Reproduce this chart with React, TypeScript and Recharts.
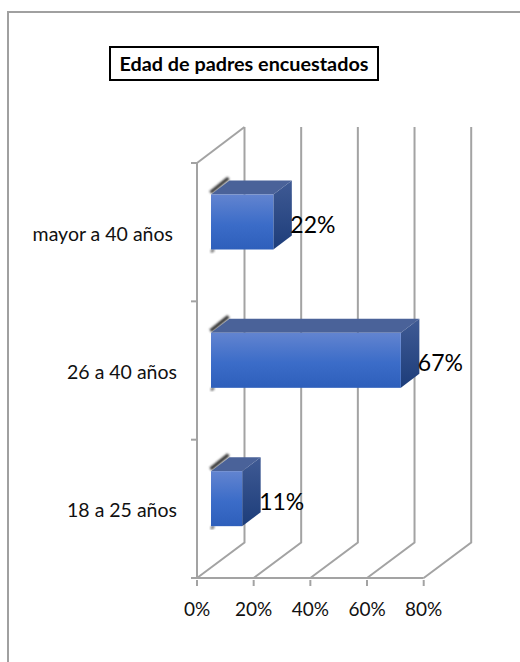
import React from "react";
import { BarChart, Bar, XAxis, YAxis, CartesianGrid, LabelList } from "recharts";

const categories = ["mayor a 40 años", "26 a 40 años", "18 a 25 años"];
const values = [22, 67, 11];
const xTicks = [0, 20, 40, 60, 80];
const chartTitle = "Edad de padres encuestados";

const rows = categories.map((name, i) => ({ name, value: values[i] }));

const FONT = "Lato, 'Open Sans', sans-serif";
const GRID = "#a3a3a3";
const BACK_DX = 47.5;
const BACK_DY = -35.5;
const BACK_TOP = 127;
const BAR_DX = 18.5;
const BAR_DY = -14;
const BAR_SHIFT_X = 14;
const BAR_SHIFT_Y = -10.5;
const BAND = 138.3;

const BarShape = (p: any) => {
  const x = p.x + BAR_SHIFT_X;
  const y = p.y + BAR_SHIFT_Y;
  const w = p.width;
  const h = p.height;
  const id = `b${p.index}`;
  return (
    <g>
      <defs>
        <linearGradient id={`${id}f`} x1="0" y1="0" x2="0" y2="1">
          <stop offset="0" stopColor="#6284d0" />
          <stop offset="0.55" stopColor="#3b6cc8" />
          <stop offset="1" stopColor="#2e5fbb" />
        </linearGradient>
        <linearGradient id={`${id}s`} x1="0" y1="0" x2="0" y2="1">
          <stop offset="0" stopColor="#3f5a94" />
          <stop offset="1" stopColor="#1d3d7a" />
        </linearGradient>
        <filter id={`${id}b`} x="-50%" y="-50%" width="200%" height="200%">
          <feGaussianBlur stdDeviation="1" />
        </filter>
      </defs>
      <path
        d={`M${x - 0.5} ${y - 2} L${x + BAR_DX - 1} ${y + BAR_DY - 2.5}`}
        stroke="#333"
        strokeWidth={3.5}
        fill="none"
        filter={`url(#${id}b)`}
      />
      <path
        d={`M${x} ${y + h + 2.5} L${x + 3} ${y + h}`}
        stroke="#666"
        strokeWidth={2.5}
        fill="none"
        filter={`url(#${id}b)`}
      />
      <path
        d={`M${x} ${y} L${x + BAR_DX} ${y + BAR_DY} H${x + w + BAR_DX} L${x + w} ${y} Z`}
        fill="#4a6299"
      />
      <path
        d={`M${x + w} ${y} L${x + w + BAR_DX} ${y + BAR_DY} V${y + h + BAR_DY} L${x + w} ${y + h} Z`}
        fill={`url(#${id}s)`}
      />
      <rect x={x} y={y} width={w} height={h} fill={`url(#${id}f)`} />
    </g>
  );
};

const ValueLabel = (p: any) => (
  <text
    x={p.x + p.width + BAR_SHIFT_X + 17}
    y={p.y + p.height / 2 + BAR_SHIFT_Y + 11}
    fontFamily={FONT}
    fontSize={23}
    fill="#000"
  >
    {`${p.value}%`}
  </text>
);

const GridLine = (p: any) => {
  const { x1, y2, index } = p;
  const bx = x1 + BACK_DX;
  const by = y2 + BACK_DY;
  return (
    <g>
      <path d={`M${x1} ${y2} L${bx} ${by} V${BACK_TOP}`} stroke={GRID} strokeWidth={2} fill="none" />
      {index === 0 && (
        <path d={`M${bx} ${BACK_TOP} L${x1} ${p.y1}`} stroke={GRID} strokeWidth={2} fill="none" />
      )}
    </g>
  );
};

const CategoryTick = (p: any) => {
  const { x, y, payload, index } = p;
  const isFirst = index === 0;
  const isLast = index === categories.length - 1;
  return (
    <g>
      <line x1={x - 6} x2={x} y1={y - BAND / 2} y2={y - BAND / 2} stroke={GRID} strokeWidth={2} />
      {isLast && <line x1={x - 6} x2={x} y1={y + BAND / 2} y2={y + BAND / 2} stroke={GRID} strokeWidth={2} />}
      <text
        x={isFirst ? x - 24 : x - 20}
        y={y + (isFirst ? 8.5 : 8)}
        textAnchor="end"
        fontFamily={FONT}
        fontSize={19.5}
        fill="#111"
      >
        {payload.value}
      </text>
    </g>
  );
};

const PercentTick = (p: any) => {
  const { x, y, payload } = p;
  return (
    <g>
      <line x1={x} x2={x} y1={y} y2={y + 6} stroke={GRID} strokeWidth={2} />
      <text x={x} y={y + 36} textAnchor="middle" fontFamily={FONT} fontSize={19} fill="#111">
        {`${payload.value}%`}
      </text>
    </g>
  );
};

export default function App() {
  return (
    <div style={{ position: "absolute", left: 0, top: 0, width: 520, height: 662, overflow: "hidden", background: "#fff" }}>
      <div
        style={{
          position: "absolute",
          left: 7,
          top: 11,
          width: 700,
          height: 800,
          border: "2px solid #a0a0a0",
          boxSizing: "border-box",
        }}
      />
      <BarChart
        width={520}
        height={662}
        data={rows}
        layout="vertical"
        barSize={55}
        margin={{ top: 163, right: 96.3, bottom: 54, left: 0 }}
        style={{ position: "absolute", left: 0, top: 0 }}
      >
        <CartesianGrid horizontal={false} vertical={GridLine as any} />
        <XAxis
          type="number"
          domain={[0, 80]}
          ticks={xTicks}
          height={30}
          axisLine={{ stroke: GRID, strokeWidth: 2 }}
          tickLine={false}
          tickSize={0}
          tick={PercentTick as any}
          interval={0}
        />
        <YAxis
          type="category"
          dataKey="name"
          width={197}
          axisLine={{ stroke: GRID, strokeWidth: 2 }}
          tickLine={false}
          tickSize={0}
          tick={CategoryTick as any}
          tickMargin={0}
          interval={0}
        />
        <Bar dataKey="value" shape={BarShape as any} isAnimationActive={false}>
          <LabelList dataKey="value" content={ValueLabel as any} />
        </Bar>
      </BarChart>
      <div
        style={{
          position: "absolute",
          left: 109,
          top: 46,
          width: 270,
          height: 35,
          border: "2px solid #000",
          boxSizing: "border-box",
          background: "#fff",
          fontFamily: FONT,
          fontWeight: 700,
          fontSize: 19.8,
          lineHeight: "30px",
          textAlign: "center",
          color: "#000",
          whiteSpace: "nowrap",
        }}
      >
        {chartTitle}
      </div>
    </div>
  );
}
